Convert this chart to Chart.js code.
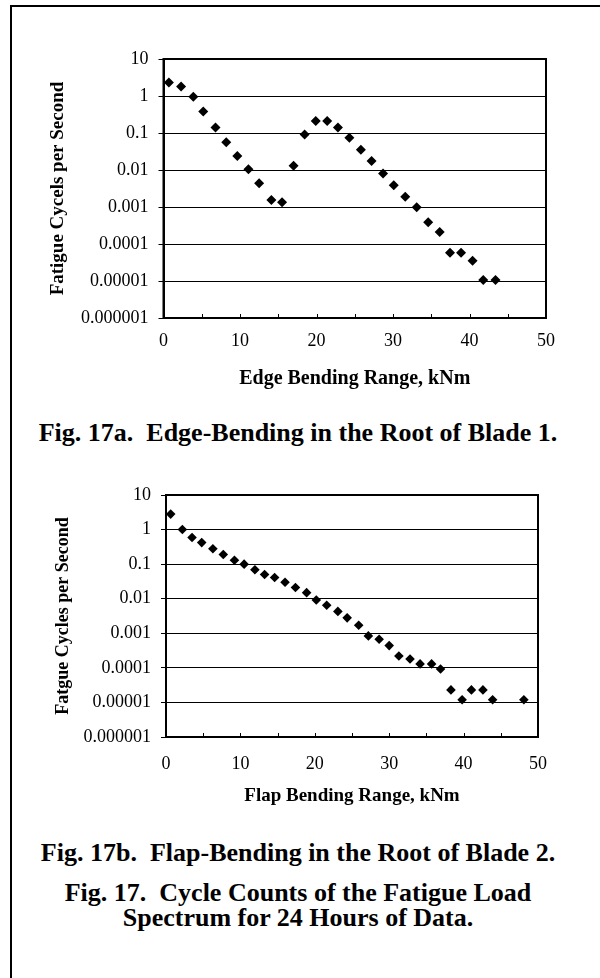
<!DOCTYPE html>
<html>
<head>
<meta charset="utf-8">
<script src="https://cdn.jsdelivr.net/npm/chart.js@4"></script>
<style>
    html, body { margin: 0; padding: 0; background: #fff; }
    #page { position: relative; width: 600px; height: 978px; overflow: hidden; }
    #frame { position: absolute; left: 10px; top: 5px; width: 600px; height: 990px;
             border-left: 2px solid #000; border-top: 2px solid #000; }
    .chart-box { position: absolute; left: 0; width: 600px; }
    .caption { position: absolute; left: 0; width: 596px; text-align: center;
               font-family: 'Liberation Serif', 'Times New Roman', serif; font-weight: bold;
               font-size: 26px; line-height: 25px; color: #000; white-space: nowrap; }
</style>
</head>
<body>
<div id="page">
    <div id="frame"></div>
    <div class="chart-box" style="top:0; height:400px;"><canvas id="edge-chart"></canvas></div>
    <div class="caption" style="top:420px;">Fig. 17a.&nbsp; Edge-Bending in the Root of Blade 1.</div>
    <div class="chart-box" style="top:460px; height:352px;"><canvas id="flap-chart"></canvas></div>
    <div class="caption" style="top:840px;">Fig. 17b.&nbsp; Flap-Bending in the Root of Blade 2.</div>
    <div class="caption" style="top:880px;">Fig. 17.&nbsp; Cycle Counts of the Fatigue Load<br>Spectrum for 24 Hours of Data.</div>
</div>
<script>
// axis ticks
const yTickValues = [0.000001, 0.00001, 0.0001, 0.001, 0.01, 0.1, 1, 10];
const yTickLabels = ['0.000001', '0.00001', '0.0001', '0.001', '0.01', '0.1', '1', '10'];
const xTickValues = [0, 10, 20, 30, 40, 50];
const xMinorTicks = [5, 10, 15, 20, 25, 30, 35, 40, 45];

// Fig. 17a - edge bending, blade 1
const edgeRange = [0.7, 2.3, 3.9, 5.2, 6.8, 8.2, 9.65, 11.1, 12.5, 14.1, 15.5, 17.0, 18.45, 19.9, 21.4,
    22.8, 24.3, 25.8, 27.2, 28.7, 30.1, 31.6, 33.1, 34.6, 36.1, 37.45, 38.9, 40.4, 41.8, 43.4];
const edgeCycles = [2.3, 1.8, 0.95, 0.38, 0.14, 0.056, 0.024, 0.0104, 0.0044, 0.00155, 0.00135, 0.013, 0.091, 0.21, 0.21,
    0.14, 0.074, 0.035, 0.0174, 0.0081, 0.0039, 0.0019, 0.00098, 0.00039, 0.00021, 0.000058, 0.000058, 0.000035, 0.0000107, 0.0000107];

// Fig. 17b - flap bending, blade 2
const flapRange = [0.63, 2.2, 3.5, 4.8, 6.3, 7.7, 9.2, 10.5, 11.95, 13.25, 14.6, 16.0, 17.4, 18.9, 20.2, 21.6, 23.1,
    24.35, 25.9, 27.2, 28.65, 30.0, 31.3, 32.8, 34.15, 35.7, 36.9, 38.3, 39.8, 41.05, 42.6, 43.9, 48.1];
const flapCycles = [2.8, 1.0, 0.59, 0.42, 0.28, 0.19, 0.13, 0.1, 0.069, 0.050, 0.041, 0.030, 0.021, 0.015, 0.0092, 0.0065, 0.0043,
    0.0028, 0.0017, 0.00084, 0.00067, 0.00044, 0.00022, 0.00018, 0.00013, 0.00013, 0.000093, 0.000023, 0.000012, 0.000023, 0.000023, 0.000012, 0.000012];

const serif = "'Liberation Serif', 'Times New Roman', serif";

// box around plot area + small inward ticks on the x axis
const framePlugin = {
    id: 'frame',
    afterDraw(chart) {
        const {ctx, chartArea: area, scales} = chart;
        ctx.save();
        ctx.strokeStyle = '#000';
        ctx.lineWidth = 2;
        ctx.strokeRect(area.left, area.top, area.right - area.left, area.bottom - area.top);
        ctx.lineWidth = 1;
        ctx.beginPath();
        xMinorTicks.forEach((v) => {
            const x = Math.round(scales.x.getPixelForValue(v)) + 0.5;
            ctx.moveTo(x, area.bottom);
            ctx.lineTo(x, area.bottom - 4);
        });
        ctx.stroke();
        ctx.restore();
    }
};

const makeChart = (canvasId, xs, ys, opts) => {
    const points = xs.map((x, i) => ({x: x, y: ys[i]}));
    return new Chart(document.getElementById(canvasId), {
        type: 'scatter',
        data: {
            datasets: [{
                data: points,
                pointStyle: 'rectRot',
                pointRadius: opts.radius,
                backgroundColor: '#000',
                borderColor: '#000',
                borderWidth: 0
            }]
        },
        options: {
            responsive: true,
            maintainAspectRatio: false,
            animation: false,
            events: [],
            layout: {padding: opts.padding},
            plugins: {legend: {display: false}, tooltip: {enabled: false}},
            scales: {
                x: {
                    type: 'linear',
                    min: 0,
                    max: 50,
                    afterBuildTicks: (scale) => { scale.ticks = xTickValues.map((v) => ({value: v})); },
                    afterFit: (scale) => { scale.height = opts.xHeight; },
                    grid: {display: true, drawOnChartArea: false, drawTicks: false},
                    border: {display: true, color: '#000', width: 2},
                    ticks: {color: '#000', padding: opts.xPad, maxRotation: 0, font: {family: serif, size: 18}},
                    title: {display: true, text: opts.xTitle, color: '#000', font: {family: serif, size: opts.xTitleSize, weight: 'bold'}}
                },
                y: {
                    type: 'logarithmic',
                    min: 0.000001,
                    max: 10,
                    afterBuildTicks: (scale) => { scale.ticks = yTickValues.map((v) => ({value: v})); },
                    afterFit: (scale) => { scale.width = opts.yWidth; },
                    grid: {color: '#000', lineWidth: 1, tickLength: 5, tickColor: '#000'},
                    border: {display: true, color: '#000', width: 2},
                    ticks: {
                        color: '#000',
                        padding: 10,
                        font: {family: serif, size: 18},
                        callback: (value) => yTickLabels[yTickValues.indexOf(value)]
                    },
                    title: {display: true, text: opts.yTitle, color: '#000', font: {family: serif, size: opts.yTitleSize, weight: 'bold'}}
                }
            }
        },
        plugins: [framePlugin]
    });
};

function main() {
    makeChart('edge-chart', edgeRange, edgeCycles, {
        radius: 5,
        padding: {top: 59, right: 54, left: 43, bottom: 5.6},
        yWidth: 120.5,
        xHeight: 76.4,
        xPad: 12.5,
        xTitleSize: 20,
        yTitleSize: 19,
        xTitle: 'Edge Bending Range, kNm',
        yTitle: 'Fatigue Cycels per Second'
    });

    makeChart('flap-chart', flapRange, flapCycles, {
        radius: 4.8,
        padding: {top: 35, right: 62, left: 48.5, bottom: 0.5},
        yWidth: 117.5,
        xHeight: 74.5,
        xPad: 16.5,
        xTitleSize: 19,
        yTitleSize: 18,
        xTitle: 'Flap Bending Range, kNm',
        yTitle: 'Fatgue Cycles per Second'
    });
}

main();
</script>
</body>
</html>
